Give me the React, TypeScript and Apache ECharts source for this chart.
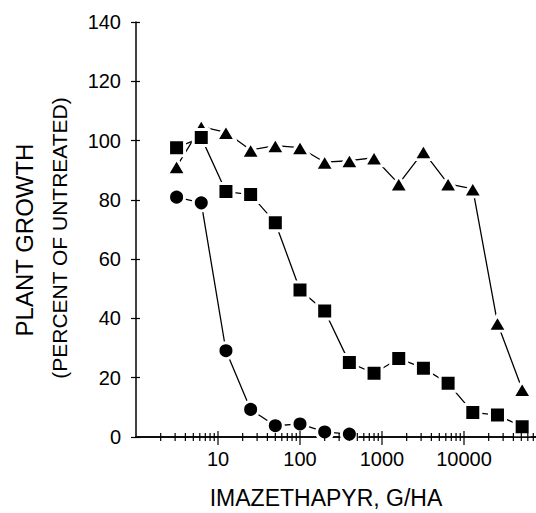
import React, { useEffect, useRef } from "react";
import * as echarts from "echarts";

const doses = [3.125, 6.25, 12.5, 25, 50, 100, 200, 400, 800, 1600, 3200, 6400, 12800, 25600, 51200];
const circleValues = [80.9, 79.0, 29.1, 9.3, 3.8, 4.4, 1.7, 1.0];
const squareValues = [97.6, 101, 82.8, 81.8, 72.3, 49.6, 42.5, 25.1, 21.5, 26.5, 23.2, 18.1, 8.3, 7.4, 3.5];
const triangleValues = [91.2, 104.7, 102.8, 96.8, 98.3, 97.6, 92.7, 93.2, 94.2, 85.4, 96.3, 85.4, 83.7, 38.4, 16.1];
const decades = [1, 10, 100, 1000, 10000];
const minorMultipliers = [2, 3, 4, 5, 6, 7, 8, 9];
const majorTicks = [10, 100, 1000, 10000];
const xTitle = "IMAZETHAPYR, G/HA";
const yTitle1 = "PLANT GROWTH";
const yTitle2 = "(PERCENT OF UNTREATED)";

const minorTicks: number[] = [];
decades.forEach((d) => minorMultipliers.forEach((m) => minorTicks.push(d * m)));

const FONT = "'Liberation Sans', Arial, sans-serif";

function pairs(values: number[]) {
  return values.map((v, i) => [doses[i], v]);
}

function tickSeries(values: number[], up: number, down: number) {
  return {
    type: "custom",
    data: values.map((v) => [v, 0]),
    clip: false,
    silent: true,
    z: 5,
    renderItem: (params: any, api: any) => {
      const p = api.coord([api.value(0), 0]);
      return {
        type: "line",
        shape: { x1: p[0], y1: p[1] - up, x2: p[0], y2: p[1] + down },
        style: { stroke: "#000", lineWidth: 1.2 },
      };
    },
  };
}

const markerStyle = { color: "#000", borderColor: "#fff", borderWidth: 3, borderJoin: "round" };
const lineStyle = { color: "#000", width: 1.3 };

export default function App() {
  const ref = useRef<HTMLDivElement>(null);
  useEffect(() => {
    if (!ref.current) return;
    const chart = echarts.init(ref.current, null, { renderer: "svg" });
    chart.setOption({
      animation: false,
      backgroundColor: "#fff",
      grid: { left: 136, right: 0, top: 22, bottom: 76, containLabel: false, outerBoundsMode: "none" },
      xAxis: [
        {
          type: "log",
          min: 1,
          max: 100000,
          logBase: 10,
          position: "bottom",
          axisLine: { show: true, lineStyle: { color: "#000", width: 1.5 } },
          axisTick: { show: false },
          splitLine: { show: false },
          axisLabel: {
            color: "#000",
            fontFamily: FONT,
            fontSize: 20,
            margin: 12,
            showMinLabel: false,
            showMaxLabel: false,
            formatter: (v: number) => String(Math.round(v)),
          },
        },
        {
          type: "log",
          min: 1,
          max: 100000,
          position: "top",
          axisLine: { show: true, lineStyle: { color: "#000", width: 1.5 } },
          axisTick: { show: false },
          axisLabel: { show: false },
          splitLine: { show: false },
        },
      ],
      yAxis: [
        {
          type: "value",
          min: 0,
          max: 140,
          interval: 20,
          axisLine: { show: true, lineStyle: { color: "#000", width: 1.5 } },
          axisTick: { show: true, length: 5, lineStyle: { color: "#000", width: 1.2 } },
          splitLine: { show: false },
          axisLabel: { color: "#000", fontFamily: FONT, fontSize: 20, margin: 15 },
        },
        {
          type: "value",
          min: 0,
          max: 140,
          interval: 20,
          position: "left",
          axisLine: { show: false },
          axisTick: { show: true, inside: true, length: 4, lineStyle: { color: "#000", width: 1.2 } },
          splitLine: { show: false },
          axisLabel: { show: false },
        },
      ],
      series: [
        tickSeries(minorTicks, 4, 4),
        tickSeries(majorTicks, 6, 8),
        {
          type: "line",
          data: pairs(triangleValues),
          symbol: "triangle",
          symbolSize: [19, 16],
          lineStyle,
          itemStyle: markerStyle,
          z: 3,
        },
        {
          type: "line",
          data: pairs(squareValues),
          symbol: "rect",
          symbolSize: 16,
          lineStyle,
          itemStyle: markerStyle,
          z: 3,
        },
        {
          type: "line",
          data: pairs(circleValues),
          symbol: "circle",
          symbolSize: 16,
          lineStyle,
          itemStyle: markerStyle,
          z: 3,
        },
      ],
      graphic: [
        {
          type: "text",
          x: 326,
          y: 498,
          style: { text: xTitle, font: `23px ${FONT}`, fill: "#000", textAlign: "center", textVerticalAlign: "middle" },
        },
        {
          type: "text",
          x: 24,
          y: 240,
          rotation: Math.PI / 2,
          style: { text: yTitle1, font: `24px ${FONT}`, fill: "#000", textAlign: "center", textVerticalAlign: "middle" },
        },
        {
          type: "text",
          x: 59,
          y: 238,
          rotation: Math.PI / 2,
          style: { text: yTitle2, font: `21px ${FONT}`, fill: "#000", textAlign: "center", textVerticalAlign: "middle" },
        },
      ],
    });
    return () => chart.dispose();
  }, []);
  return (
    <div style={{ position: "absolute", left: 0, top: 0, width: 536, height: 513, overflow: "hidden", background: "#fff" }}>
      <div ref={ref} style={{ width: 546, height: 513 }} />
    </div>
  );
}
